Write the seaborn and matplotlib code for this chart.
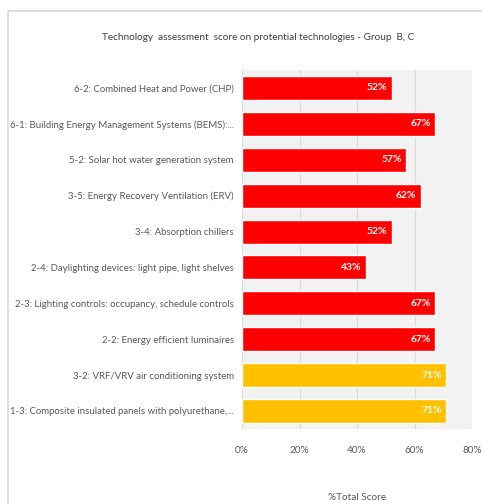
import matplotlib
matplotlib.use("Agg")
import matplotlib.pyplot as plt
import seaborn as sns
import pandas as pd
from matplotlib.lines import Line2D
from matplotlib.ticker import PercentFormatter

categories = [
    "6-2: Combined Heat and Power (CHP)",
    "6-1: Building Energy Management Systems (BEMS):...",
    "5-2: Solar hot water generation system",
    "3-5: Energy Recovery Ventilation (ERV)",
    "3-4: Absorption chillers",
    "2-4: Daylighting devices: light pipe, light shelves",
    "2-3: Lighting controls: occupancy, schedule controls",
    "2-2: Energy efficient luminaires",
    "3-2: VRF/VRV air conditioning system",
    "1-3: Composite insulated panels with polyurethane,...",
]
scores = [52, 67, 57, 62, 52, 43, 67, 67, 71, 71]
groups = ["C", "C", "C", "C", "C", "C", "C", "C", "B", "B"]
x_ticks = [0, 20, 40, 60, 80]

sns.set_theme(style="white")
plt.rcParams["font.family"] = ["Lato", "DejaVu Sans"]

df = pd.DataFrame({"tech": categories, "score": scores, "group": groups})
palette = {"C": "#ff0000", "B": "#ffc000"}

fig = plt.figure(figsize=(4.82, 5.04), dpi=100)
ax = fig.add_axes([0.502, 0.149, 0.478, 0.712])
ax.set_facecolor("#f2f2f2")

sns.barplot(data=df, y="tech", x="score", hue="group", palette=palette,
            order=categories, dodge=False, width=0.67, legend=False, ax=ax,
            saturation=1)

ax.set_xlim(0, 80)
ax.set_ylim(len(categories) - 0.5, -0.5)
ax.set_xticks(x_ticks)
ax.xaxis.set_major_formatter(PercentFormatter(decimals=0))
for x in x_ticks:
    ax.axvline(x, color="#d9d9d9", lw=0.8, zorder=0)
ax.set_axisbelow(True)
for s in ax.spines.values():
    s.set_visible(False)
ax.tick_params(axis="y", length=0, colors="#595959", labelsize=6.9, pad=6)
ax.tick_params(axis="x", length=0, colors="#595959", labelsize=7.2, pad=12)
ax.set_ylabel("")
ax.set_xlabel("%Total Score", color="#595959", fontsize=7.2, labelpad=28)

for i, v in enumerate(scores):
    ax.text(v - 1.5, i, f"{v}%", ha="right", va="center", color="white",
            fontsize=7.4, fontweight="bold")

fig.text(0.535, 0.926, "Technology  assessment  score on protential technologies - Group  B, C",
         ha="center", va="center", fontsize=7.2, color="#404040")

fig.add_artist(Line2D([0.017, 1.0], [0.978, 0.978], transform=fig.transFigure,
                      color="#d9d9d9", lw=1.2))
fig.add_artist(Line2D([0.017, 0.017], [0.0, 0.978], transform=fig.transFigure,
                      color="#d9d9d9", lw=1.2))

fig.savefig("out.png", dpi=100)
